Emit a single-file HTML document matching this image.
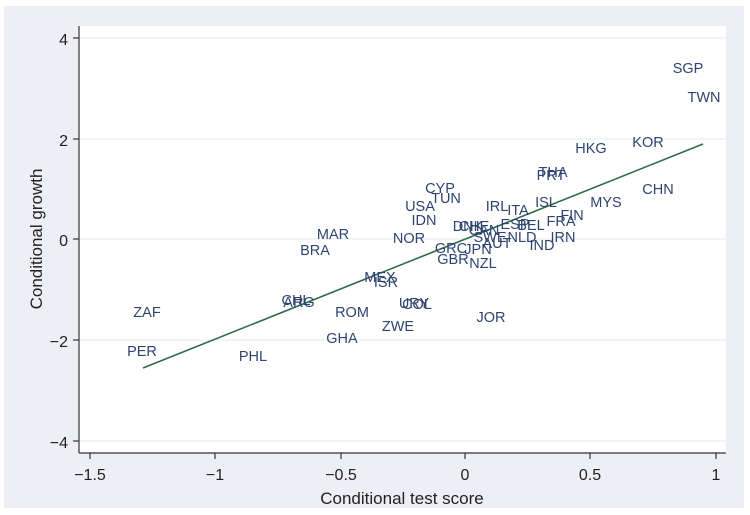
<!DOCTYPE html>
<html><head><meta charset="utf-8"><style>
body{margin:0;background:#fff;}
svg{display:block;font-family:"Liberation Sans",sans-serif;}
.l{fill:#2f4470;font-size:14.5px;text-anchor:middle;dominant-baseline:central;}
.t{fill:#222;font-size:16px;}
</style></head><body>
<svg width="750" height="515" viewBox="0 0 750 515">
<rect x="0" y="0" width="750" height="515" fill="#fff"/>
<rect x="4" y="6" width="740" height="502" fill="#edeff5"/>
<rect x="79" y="26" width="647" height="427" fill="#fff"/>
<g stroke="#e6ebf2" stroke-width="1">
<line x1="79" x2="726" y1="38" y2="38"/><line x1="79" x2="726" y1="139" y2="139"/>
<line x1="79" x2="726" y1="239" y2="239"/><line x1="79" x2="726" y1="340" y2="340"/>
<line x1="79" x2="726" y1="441" y2="441"/>
</g>
<g stroke="#333" stroke-width="1.2">
<line x1="79" y1="26" x2="79" y2="453"/><line x1="79" y1="453" x2="726" y2="453"/>
<line x1="73" x2="79" y1="38" y2="38"/><line x1="73" x2="79" y1="139" y2="139"/>
<line x1="73" x2="79" y1="239" y2="239"/><line x1="73" x2="79" y1="340" y2="340"/>
<line x1="73" x2="79" y1="441" y2="441"/>
<line x1="90" x2="90" y1="453" y2="459"/><line x1="215" x2="215" y1="453" y2="459"/>
<line x1="341" x2="341" y1="453" y2="459"/><line x1="465" x2="465" y1="453" y2="459"/>
<line x1="590" x2="590" y1="453" y2="459"/><line x1="716" x2="716" y1="453" y2="459"/>
</g>
<g class="t" text-anchor="end">
<text x="68" y="45">4</text><text x="68" y="146">2</text><text x="68" y="246">0</text>
<text x="68" y="347">−2</text><text x="68" y="448">−4</text>
</g>
<g class="t" text-anchor="middle">
<text x="90" y="480">−1.5</text><text x="215" y="480">−1</text><text x="341" y="480">−0.5</text>
<text x="465" y="480">0</text><text x="590" y="480">0.5</text><text x="716" y="480">1</text>
<text x="402" y="504" font-size="17">Conditional test score</text>
<text transform="translate(42,239) rotate(-90)" font-size="17">Conditional growth</text>
</g>
<line x1="143" y1="368" x2="703" y2="144" stroke="#2e6b4a" stroke-width="1.6"/>
<g class="l">
<text x="688" y="69">SGP</text><text x="704" y="98">TWN</text><text x="648" y="143">KOR</text>
<text x="591" y="149">HKG</text><text x="658" y="190">CHN</text><text x="553" y="173">THA</text>
<text x="551" y="176">PRT</text><text x="546" y="203">ISL</text><text x="606" y="203">MYS</text>
<text x="440" y="189">CYP</text><text x="446" y="199">TUN</text><text x="420" y="207">USA</text>
<text x="424" y="221">IDN</text><text x="497" y="207">IRL</text><text x="518" y="211">ITA</text>
<text x="572" y="216">FIN</text><text x="561" y="222">FRA</text><text x="515" y="225">ESP</text>
<text x="531" y="226">BEL</text><text x="333" y="235">MAR</text><text x="409" y="239">NOR</text>
<text x="468" y="227">DNK</text><text x="474" y="227">CHE</text><text x="484" y="231">CAN</text>
<text x="522" y="238">NLD</text><text x="563" y="238">IRN</text><text x="490" y="238">SWE</text>
<text x="497" y="244">AUT</text><text x="542" y="246">IND</text><text x="451" y="249">GRC</text>
<text x="478" y="250">JPN</text><text x="453" y="260">GBR</text><text x="483" y="264">NZL</text>
<text x="315" y="251">BRA</text><text x="380" y="278">MEX</text><text x="386" y="283">ISR</text>
<text x="296" y="301">CHL</text><text x="299" y="303">ARG</text><text x="147" y="313">ZAF</text>
<text x="352" y="313">ROM</text><text x="414" y="304">URY</text><text x="417" y="305">COL</text>
<text x="491" y="318">JOR</text><text x="398" y="327">ZWE</text><text x="342" y="339">GHA</text>
<text x="142" y="352">PER</text><text x="253" y="357">PHL</text>
</g>
</svg>
</body></html>
